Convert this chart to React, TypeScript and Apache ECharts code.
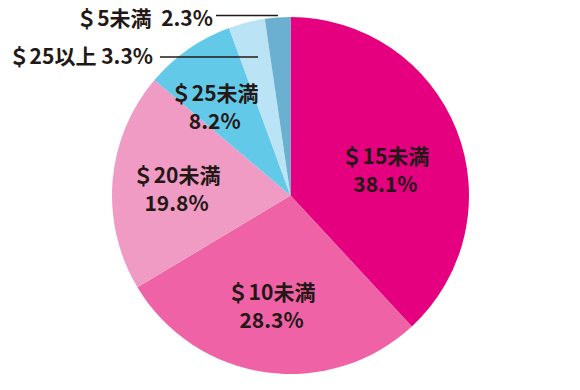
import React, { useEffect, useRef } from "react";
import * as echarts from "echarts";

const categories = ["＄15未満", "＄10未満", "＄20未満", "＄25未満", "＄25以上", "＄5未満"];
const shares = [38.1, 28.3, 19.8, 8.2, 3.3, 2.3];
const colors = ["#E5007F", "#F062A6", "#EF9BC3", "#63C9E9", "#BAE3F6", "#6BB0D0"];
const outsideNames = ["＄25以上", "＄5未満"];

const FONT = "'Noto Sans CJK JP', 'Noto Sans', sans-serif";

export default function App() {
  const ref = useRef<HTMLDivElement>(null);
  useEffect(() => {
    if (!ref.current) return;
    const chart = echarts.init(ref.current, null, { renderer: "svg" });
    // nudges for inside labels (style only), keyed by index
    const nudges: Record<number, [number, number]> = {
      0: [9, 7],
      1: [-6, 18],
      2: [-22, 0],
      3: [-23, -14],
    };
    const data = categories.map((name, i) => {
      const outside = outsideNames.includes(name);
      return {
        name,
        value: shares[i],
        itemStyle: { color: colors[i] },
        label: outside
          ? {
              position: "outside",
              formatter: (p: any) => (p.name === "＄5未満" ? `${p.name}  ${p.value}%` : `${p.name} ${p.value}%`),
            }
          : { position: "inside", formatter: (p: any) => `${p.name}\n${p.value}%` },
        labelLine: { show: false },
      };
    });
    const leader = (x1: number, x2: number, y: number) => ({
      type: "line",
      z: 100,
      shape: { x1, y1: y, x2, y2: y },
      style: { stroke: "#231815", lineWidth: 1.5 },
    });
    chart.setOption({
      animation: false,
      graphic: [leader(160, 258, 57), leader(216, 278, 15.5)],
      series: [
        {
          type: "pie",
          center: [290.5, 195.5],
          radius: [0, 178.5],
          startAngle: 90,
          clockwise: true,
          avoidLabelOverlap: false,
          data,
          label: {
            color: "#231815",
            fontFamily: FONT,
            fontWeight: "bold",
            fontSize: 21,
            lineHeight: 28,
            align: "center",
          },
          emphasis: { disabled: true },
          labelLayout: (params: any) => {
            const idx = params.dataIndex;
            if (idx === 4) {
              return { x: 153, y: 55, align: "right", verticalAlign: "middle" };
            }
            if (idx === 5) {
              return { x: 213, y: 17, align: "right", verticalAlign: "middle" };
            }
            const n = nudges[idx] || [0, 0];
            return { dx: n[0], dy: n[1] };
          },
        },
      ],
    });
    return () => chart.dispose();
  }, []);
  return (
    <div
      ref={ref}
      style={{ position: "fixed", left: 0, top: 0, width: 580, height: 390, background: "#fff" }}
    />
  );
}
